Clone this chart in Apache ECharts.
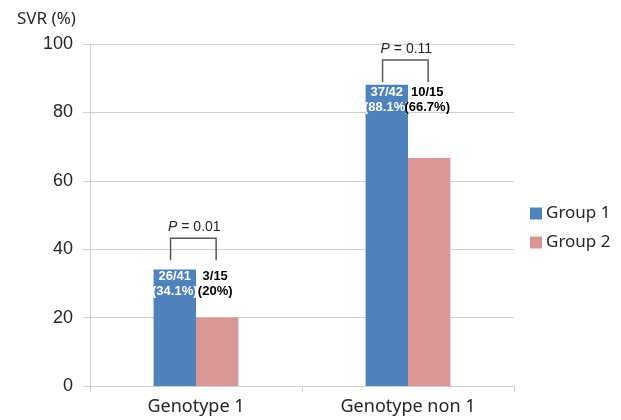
<!DOCTYPE html>
<html><head><meta charset="utf-8">
<script src="https://cdn.jsdelivr.net/npm/echarts@6/dist/echarts.min.js"></script>
<style>html,body{margin:0;padding:0;background:#fff}#c{width:621px;height:420px}</style>
</head><body><div id="c"></div>
<script>
const categories = ['Genotype 1', 'Genotype non 1'];
const seriesNames = ['Group 1', 'Group 2'];
const group1 = [34.1, 88.1];
const group2 = [20, 66.7];
const group1Labels = ['26/41\n(34.1%)', '37/42\n(88.1%)'];
const group2Labels = ['3/15\n(20%)', '10/15\n(66.7%)'];
const pValues = ['0.01', '0.11'];
const bracketLevel = [36.8, 88.9];
const yMin = 0, yMax = 100, yStep = 20;

const chart = echarts.init(document.getElementById('c'), null, {renderer: 'canvas'});
const axisFont = '"Noto Sans", "Liberation Sans", sans-serif';
const labelFont = '"Liberation Sans", Arial, sans-serif';

const annot = categories.map((c, i) => [i, group1[i], group2[i], bracketLevel[i]]);

chart.setOption({
  animation: false,
  backgroundColor: '#fff',
  title: {
    text: 'SVR (%)', left: 12, top: 6,
    textStyle: {fontFamily: axisFont, fontSize: 17, fontWeight: 'normal', color: '#262626'}
  },
  legend: {
    data: seriesNames, orient: 'vertical', left: 525, top: 200,
    itemWidth: 12, itemHeight: 12, itemGap: 12,
    icon: 'rect',
    textStyle: {fontFamily: axisFont, fontSize: 17, color: '#262626', padding: [0, 0, 0, -1]}
  },
  grid: {left: 90, right: 107, top: 44, bottom: 34, containLabel: false},
  xAxis: {
    type: 'category', data: categories,
    axisLine: {lineStyle: {color: '#d0d0d0', width: 1}},
    axisTick: {show: true, length: 6, lineStyle: {color: '#d0d0d0'}},
    axisLabel: {fontFamily: axisFont, fontSize: 18, color: '#262626', margin: 12}
  },
  yAxis: {
    type: 'value', min: yMin, max: yMax, interval: yStep,
    axisLine: {show: true, lineStyle: {color: '#d0d0d0', width: 1}},
    axisTick: {show: true, length: 7, lineStyle: {color: '#d0d0d0'}},
    splitLine: {lineStyle: {color: '#d0d0d0', width: 1}},
    axisLabel: {fontFamily: labelFont, fontSize: 18, color: '#262626', margin: 17}
  },
  series: [
    {
      name: seriesNames[0], type: 'bar', data: group1,
      barGap: '0%', barCategoryGap: '60%',
      itemStyle: {color: '#4f81bd'},
      label: {
        show: true, position: 'insideTop', distance: 0,
        formatter: p => group1Labels[p.dataIndex],
        color: '#fff', fontFamily: labelFont, fontWeight: 'bold', fontSize: 13, lineHeight: 15
      }
    },
    {
      name: seriesNames[1], type: 'bar', data: group2,
      itemStyle: {color: '#d99694'}
    },
    {
      type: 'custom', silent: true, z: 10, data: annot,
      renderItem: function (params, api) {
        const i = api.value(0), v1 = api.value(1), lvl = api.value(3);
        const p = api.coord([i, v1]);
        const pb = api.coord([i, lvl]);
        const band = api.size([1, 0])[0];
        const x1 = p[0] - band * 0.12, x2 = p[0] + band * 0.095;
        const xb2 = p[0] + band * 0.1;
        const yb = pb[1], yt = yb - 22;
        return {
          type: 'group',
          children: [
            {type: 'polyline', shape: {points: [[x1, yb], [x1, yt], [x2, yt], [x2, yb]]},
             style: {stroke: '#595959', lineWidth: 1.5, fill: null}},
            {type: 'text', style: {
              x: (x1 + x2) / 2 + 1, y: yt - 11, text: '{i|P} = ' + pValues[i],
              align: 'center', verticalAlign: 'middle',
              font: '14px ' + labelFont, fill: '#262626',
              rich: {i: {fontStyle: 'italic', fontSize: 14, fontFamily: labelFont, fill: '#262626'}}
            }},
            {type: 'text', style: {
              x: xb2 - 2, y: p[1] + 0, text: group2Labels[i],
              align: 'center', verticalAlign: 'top',
              font: 'bold 13px ' + labelFont, fill: '#000', lineHeight: 15
            }}
          ]
        };
      }
    }
  ]
});
</script></body></html>
